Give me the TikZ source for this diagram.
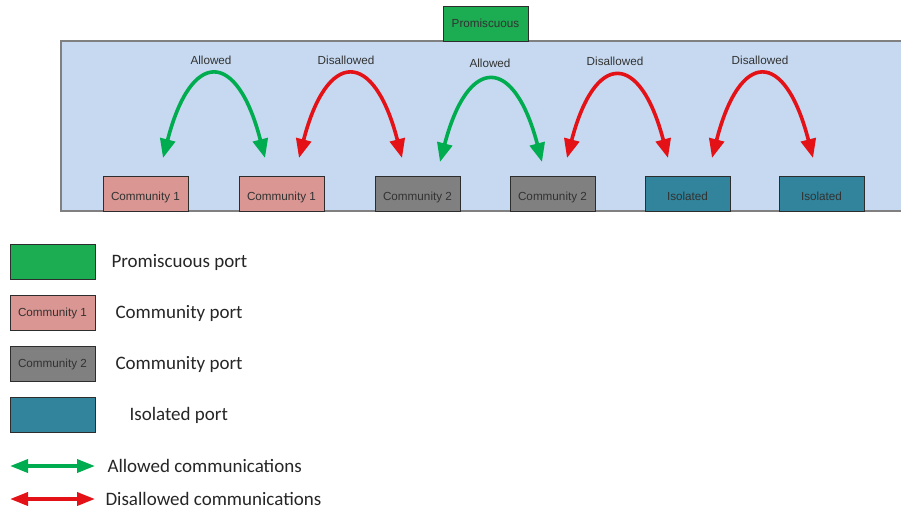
\documentclass[tikz,border=0pt]{standalone}
\usepackage{fontspec}
\setmainfont{Liberation Sans}
\newfontfamily\legendfont{Carlito}
\usetikzlibrary{arrows.meta,calc}
\definecolor{panelblue}{RGB}{198,217,240}
\definecolor{panelline}{RGB}{128,128,128}
\definecolor{promgreen}{RGB}{28,172,82}
\definecolor{comone}{RGB}{218,150,146}
\definecolor{comtwo}{RGB}{128,128,128}
\definecolor{isoteal}{RGB}{49,132,155}
\definecolor{okgreen}{RGB}{0,172,80}
\definecolor{nored}{RGB}{228,18,22}
\definecolor{boxedge}{RGB}{45,45,45}
\definecolor{labeltext}{RGB}{50,50,50}
\begin{document}
\begin{tikzpicture}[x=1pt,y=-1pt,
  port/.style={draw=boxedge,line width=0.8pt,minimum width=85pt,minimum height=35pt,
    inner sep=0pt,font=\fontsize{11.7}{13}\selectfont,text=labeltext},
  lowtext/.style={text height=13pt,text depth=0pt},
  arc/.style={line width=3.6pt,{Triangle[length=19pt,width=15pt]}-{Triangle[length=19pt,width=15pt]}},
  legarrow/.style={line width=3.6pt,{Triangle[length=18pt,width=13pt]}-{Triangle[length=18pt,width=13pt]}},
  arclabel/.style={font=\fontsize{11.7}{13}\selectfont,text=labeltext},
  legtext/.style={anchor=west,font=\legendfont\fontsize{19}{22}\selectfont,text=black!85}]
\useasboundingbox (0,0) rectangle (901,509);

% switch panel
\fill[panelblue] (61,41) rectangle (903,211);
\draw[panelline,line width=1.2pt] (903,41) -- (61,41) -- (61,211) -- (903,211);

% promiscuous port on top
\node[port,fill=promgreen] (prom) at (485.5,23.5) {Promiscuous};

% host ports along the bottom
\node[port,lowtext,fill=comone] (p1) at (145.5,193.5) {Community 1};
\node[port,lowtext,fill=comone] (p2) at (281.5,193.5) {Community 1};
\node[port,lowtext,fill=comtwo] (p3) at (417.5,193.5) {Community 2};
\node[port,lowtext,fill=comtwo] (p4) at (552.5,193.5) {Community 2};
\node[port,lowtext,fill=isoteal] (p5) at (687.5,193.5) {Isolated};
\node[port,lowtext,fill=isoteal] (p6) at (821.5,193.5) {Isolated};

% arrow end points above the ports
\coordinate (a1l) at (163,158);
\coordinate (a1r) at (265,158);
\coordinate (a2l) at (299,158);
\coordinate (a2r) at (402,158);
\coordinate (a3l) at (440,162);
\coordinate (a3r) at (542,162);
\coordinate (a4l) at (567,158);
\coordinate (a4r) at (668,158);
\coordinate (a5l) at (712,158);
\coordinate (a5r) at (813,158);

% arcs between neighbouring ports
\foreach \l/\r/\c/\h in {a1l/a1r/okgreen/109, a2l/a2r/nored/109, a3l/a3r/okgreen/107,
                         a4l/a4r/nored/107, a5l/a5r/nored/109}{
  \draw[arc,\c] (\l) .. controls ($(\l)+(28,-\h)$) and ($(\r)+(-28,-\h)$) .. (\r);
}

\node[arclabel] (t1) at (211,60) {Allowed};
\node[arclabel] (t2) at (346,60) {Disallowed};
\node[arclabel] (t3) at (490,63) {Allowed};
\node[arclabel] (t4) at (615,61) {Disallowed};
\node[arclabel] (t5) at (760,60) {Disallowed};

% legend
\node[port,fill=promgreen] (l1) at (52.5,261.5) {};
\node[port,fill=comone] (l2) at (52.5,313) {Community 1};
\node[port,fill=comtwo] (l3) at (52.5,364) {Community 2};
\node[port,fill=isoteal] (l4) at (52.5,415) {};
\coordinate (g1) at (10,466);
\coordinate (g2) at (95,466);
\coordinate (r1) at (10,499);
\coordinate (r2) at (95,499);
\draw[legarrow,okgreen] (g1) -- (g2);
\draw[legarrow,nored] (r1) -- (r2);

\node[legtext] (d1) at (108,262) {Promiscuous port};
\node[legtext] (d2) at (112,313) {Community port};
\node[legtext] (d3) at (112,364) {Community port};
\node[legtext] (d4) at (126,415) {Isolated port};
\node[legtext] (d5) at (104,466) {Allowed communications};
\node[legtext] (d6) at (102,499) {Disallowed communications};
\end{tikzpicture}
\end{document}
